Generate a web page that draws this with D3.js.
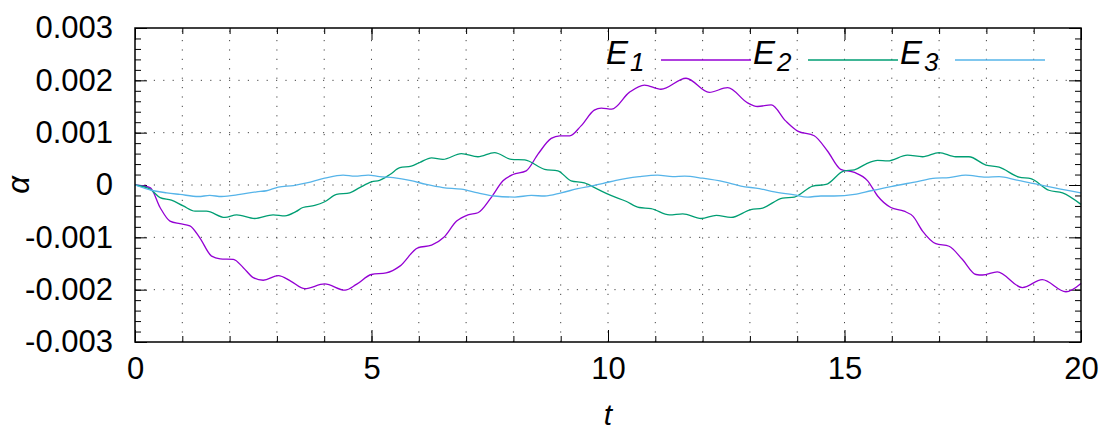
<!DOCTYPE html>
<html>
<head>
<meta charset="utf-8">
<script src="https://cdn.jsdelivr.net/npm/d3@7"></script>
<style>
  body { margin: 0; background: #fff; }
  svg { display: block; font-family: "Liberation Sans", Arial, Helvetica, sans-serif; }
</style>
</head>
<body>
<svg id="chart"></svg>
<script>
// Chart size and plot frame
const width = 1107;
const height = 433;
const margin = { left: 135, right: 26, top: 28, bottom: 91 };

// Data (t, a in units of 1e-3)
const e1Data = [
  [0, 0], [0.32, -0.05], [0.53, -0.43], [0.74, -0.69], [0.95, -0.74], [1.16, -0.78],
  [1.37, -1.01], [1.62, -1.36], [1.80, -1.41], [2.08, -1.42], [2.29, -1.58], [2.50, -1.77],
  [2.71, -1.82], [3.03, -1.73], [3.30, -1.84], [3.59, -1.98], [4.01, -1.89], [4.44, -2.01],
  [4.68, -1.90], [5.00, -1.71], [5.31, -1.68], [5.60, -1.55], [5.98, -1.20], [6.27, -1.15],
  [6.53, -1.00], [6.80, -0.69], [7.04, -0.57], [7.25, -0.53], [7.53, -0.24], [7.78, 0.08],
  [7.99, 0.20], [8.27, 0.27], [8.52, 0.59], [8.80, 0.89], [8.98, 0.94], [9.19, 0.94],
  [9.43, 1.13], [9.71, 1.43], [9.86, 1.47], [10.08, 1.45], [10.45, 1.77], [10.77, 1.91],
  [11.12, 1.83], [11.65, 2.04], [12.14, 1.77], [12.53, 1.86], [12.95, 1.57], [13.16, 1.50],
  [13.45, 1.53], [13.76, 1.22], [14.01, 1.03], [14.36, 0.94], [14.64, 0.65], [14.92, 0.30],
  [15.21, 0.24], [15.49, 0.08], [15.70, -0.21], [15.98, -0.43], [16.26, -0.50], [16.45, -0.60],
  [16.65, -0.88], [16.93, -1.12], [17.21, -1.17], [17.49, -1.42], [17.78, -1.71], [17.92, -1.72],
  [18.23, -1.66], [18.76, -1.96], [19.18, -1.81], [19.68, -2.04], [20.0, -1.88]
];
const e2Data = [
  [0, 0], [0.32, -0.08], [0.53, -0.24], [0.77, -0.29], [1.02, -0.40], [1.27, -0.50],
  [1.51, -0.50], [1.90, -0.62], [2.15, -0.57], [2.53, -0.64], [2.92, -0.57], [3.17, -0.59],
  [3.40, -0.51], [3.55, -0.43], [3.80, -0.39], [4.01, -0.32], [4.26, -0.18], [4.54, -0.15],
  [4.75, -0.05], [5.00, 0.06], [5.17, 0.09], [5.39, 0.20], [5.60, 0.33], [5.84, 0.36],
  [6.02, 0.43], [6.27, 0.52], [6.51, 0.49], [6.90, 0.60], [7.25, 0.54], [7.60, 0.62],
  [7.96, 0.49], [8.24, 0.48], [8.66, 0.30], [8.94, 0.27], [9.22, 0.08], [9.50, 0.04],
  [9.80, -0.09], [10.06, -0.20], [10.38, -0.31], [10.66, -0.43], [10.91, -0.45], [11.30, -0.57],
  [11.58, -0.55], [11.97, -0.64], [12.29, -0.58], [12.60, -0.62], [13.02, -0.47], [13.27, -0.44],
  [13.69, -0.25], [13.94, -0.23], [14.33, -0.02], [14.61, 0.01], [14.99, 0.27], [15.21, 0.29],
  [15.45, 0.40], [15.70, 0.47], [15.91, 0.46], [16.33, 0.57], [16.65, 0.54], [17.00, 0.62],
  [17.35, 0.54], [17.63, 0.54], [17.99, 0.38], [18.27, 0.34], [18.69, 0.15], [18.94, 0.12],
  [19.32, -0.10], [19.61, -0.15], [20.0, -0.37]
];
const e3Data = [
  [0, 0], [0.39, -0.11], [0.67, -0.15], [0.95, -0.18], [1.34, -0.22], [1.58, -0.20],
  [1.83, -0.22], [2.22, -0.18], [2.57, -0.13], [2.78, -0.11], [3.03, -0.04], [3.35, -0.01],
  [3.63, 0.04], [4.01, 0.13], [4.40, 0.19], [4.65, 0.17], [4.93, 0.19], [5.17, 0.16],
  [5.46, 0.14], [5.81, 0.09], [6.16, 0.01], [6.51, -0.05], [6.90, -0.08], [7.25, -0.15],
  [7.60, -0.21], [8.03, -0.23], [8.38, -0.20], [8.66, -0.21], [9.01, -0.15], [9.36, -0.07],
  [9.64, -0.02], [9.90, 0.03], [10.17, 0.09], [10.66, 0.16], [11.05, 0.19], [11.37, 0.16],
  [11.62, 0.17], [12.00, 0.13], [12.46, 0.06], [12.81, -0.02], [13.20, -0.07], [13.52, -0.13],
  [13.94, -0.19], [14.22, -0.23], [14.50, -0.21], [14.78, -0.21], [15.21, -0.18], [15.56, -0.11],
  [15.98, -0.03], [16.45, 0.05], [16.93, 0.13], [17.21, 0.14], [17.56, 0.19], [17.99, 0.15],
  [18.27, 0.16], [18.62, 0.10], [19.04, 0.02], [19.47, -0.06], [20.0, -0.15]
];

const seriesNames = ["1", "2", "3"];
const seriesColors = ["#9400d3", "#009e73", "#56b4e9"];
const xTicks = [0, 5, 10, 15, 20];
const yTicks = [-0.003, -0.002, -0.001, 0, 0.001, 0.002, 0.003];

const svg = d3.select("#chart")
    .attr("width", width)
    .attr("height", height);

const x = d3.scaleLinear().domain([0, 20]).range([margin.left, width - margin.right]);
const y = d3.scaleLinear().domain([-0.003, 0.003]).range([height - margin.bottom, margin.top]);

const xMinor = d3.range(0, 21, 1);
const yMinor = d3.range(-30, 31, 2).map(d => d * 1e-4);

// Dotted grid: every unit in t, every major step in a
const grid = svg.append("g").attr("stroke", "#444").attr("stroke-width", 1)
    .attr("stroke-dasharray", "1.2,8.2");
grid.selectAll(".gx").data(xMinor.slice(1, -1)).enter().append("line")
    .attr("x1", d => x(d)).attr("x2", d => x(d))
    .attr("y1", y(-0.003)).attr("y2", y(0.003));
grid.selectAll(".gy").data(yTicks.slice(1, -1)).enter().append("line")
    .attr("x1", x(0)).attr("x2", x(20))
    .attr("y1", d => y(d)).attr("y2", d => y(d));

const fmtY = d => Math.abs(d) < 1e-12 ? "0" : d.toFixed(3);

function styleAxis(g) {
    g.select(".domain").remove();
    g.selectAll("line").attr("stroke", "#000").attr("stroke-width", 1);
    g.selectAll("text").attr("fill", "#000").attr("font-size", 31);
}

// Minor ticks on all four sides
svg.append("g").attr("transform", `translate(0,${y(-0.003)})`)
    .call(d3.axisBottom(x).tickValues(xMinor).tickSize(-6).tickFormat("")).call(styleAxis);
svg.append("g").attr("transform", `translate(0,${y(0.003)})`)
    .call(d3.axisTop(x).tickValues(xMinor).tickSize(-6).tickFormat("")).call(styleAxis);
svg.append("g").attr("transform", `translate(${x(0)},0)`)
    .call(d3.axisLeft(y).tickValues(yMinor).tickSize(-6).tickFormat("")).call(styleAxis);
svg.append("g").attr("transform", `translate(${x(20)},0)`)
    .call(d3.axisRight(y).tickValues(yMinor).tickSize(-6).tickFormat("")).call(styleAxis);

// Major ticks with labels
svg.append("g").attr("transform", `translate(0,${y(-0.003)})`)
    .call(d3.axisBottom(x).tickValues(xTicks).tickSize(-12).tickPadding(15).tickFormat(d3.format("d")))
    .call(styleAxis);
svg.append("g").attr("transform", `translate(0,${y(0.003)})`)
    .call(d3.axisTop(x).tickValues(xTicks).tickSize(-12).tickFormat("")).call(styleAxis);
svg.append("g").attr("transform", `translate(${x(0)},0)`)
    .call(d3.axisLeft(y).tickValues(yTicks).tickSize(-12).tickPadding(22).tickFormat(fmtY))
    .call(styleAxis);
svg.append("g").attr("transform", `translate(${x(20)},0)`)
    .call(d3.axisRight(y).tickValues(yTicks).tickSize(-12).tickFormat("")).call(styleAxis);

// Curves
const line = d3.line()
    .x(d => x(d[0]))
    .y(d => y(d[1] * 1e-3))
    .curve(d3.curveMonotoneX);

const allSeries = [e1Data, e2Data, e3Data];
svg.append("g").attr("fill", "none").attr("stroke-width", 1.3)
    .selectAll("path").data(allSeries).enter().append("path")
    .attr("stroke", (d, i) => seriesColors[i])
    .attr("d", line);

// Frame
svg.append("rect")
    .attr("x", x(0)).attr("y", y(0.003))
    .attr("width", x(20) - x(0)).attr("height", y(-0.003) - y(0.003))
    .attr("fill", "none").attr("stroke", "#000").attr("stroke-width", 1.5);

// Legend
const legendX = [606, 753, 900];
const legend = svg.append("g");
seriesNames.forEach((name, i) => {
    const t = legend.append("text")
        .attr("x", legendX[i]).attr("y", 64)
        .attr("font-size", 33).attr("font-style", "italic").attr("fill", "#000");
    t.append("tspan").text("E");
    t.append("tspan").attr("font-size", 26).attr("dy", 7).attr("dx", 2).text(name);
    legend.append("line")
        .attr("x1", legendX[i] + 55).attr("x2", legendX[i] + 145)
        .attr("y1", 60).attr("y2", 60)
        .attr("stroke", seriesColors[i]).attr("stroke-width", 1.3);
});

// Axis titles
svg.append("text")
    .attr("x", (x(0) + x(20)) / 2).attr("y", 425)
    .attr("text-anchor", "middle").attr("font-size", 30).attr("font-style", "italic")
    .text("t");
svg.append("text")
    .attr("transform", `translate(29,${y(0)}) rotate(-90)`)
    .attr("text-anchor", "middle").attr("font-size", 31).attr("font-style", "italic")
    .text("α");
</script>
</body>
</html>
